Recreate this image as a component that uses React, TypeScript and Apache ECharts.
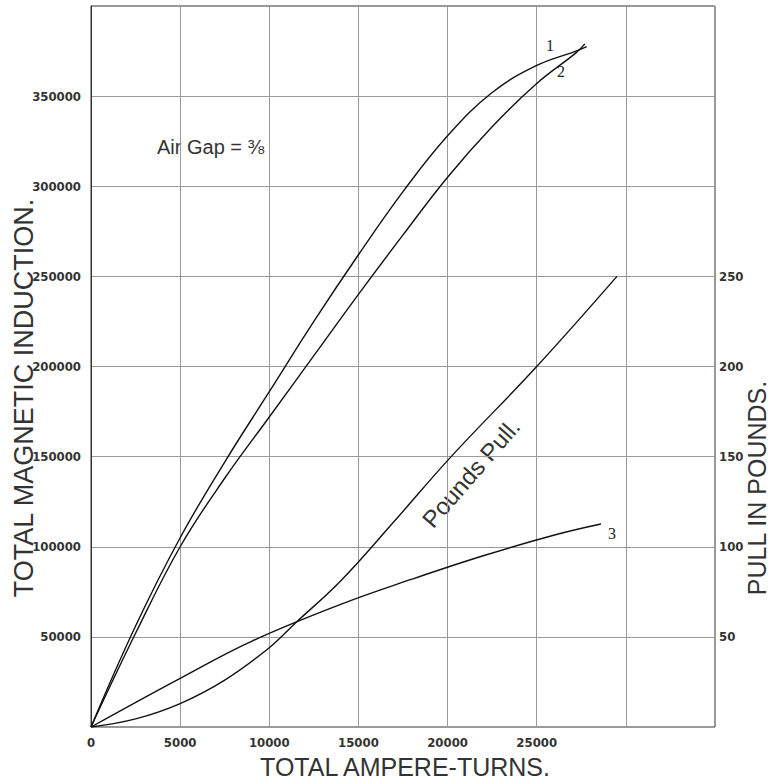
import React, { useEffect, useRef } from "react";
import * as echarts from "echarts";

// Curve 1 — total magnetic induction vs ampere-turns
const curve1Turns = [0, 2500, 5000, 7500, 10000, 12500, 15000, 17500, 20000, 22500, 25000, 27200, 27800];
const curve1Induction = [0, 56000, 105000, 147000, 186000, 225000, 262000, 297000, 328000, 352000, 367000, 375000, 377500];

// Curve 2
const curve2Turns = [0, 2500, 5000, 7500, 10000, 12500, 15000, 17500, 20000, 22500, 25000, 27200, 27700];
const curve2Induction = [0, 52000, 100000, 138000, 172000, 206000, 240000, 273000, 305000, 333000, 357000, 374000, 379000];

// Curve 3
const curve3Turns = [0, 5000, 9000, 14000, 18000, 22000, 26000, 28600];
const curve3Induction = [0, 27000, 47500, 68000, 82000, 95000, 106500, 112600];

// Pounds pull (right axis)
const pullTurns = [0, 2500, 5000, 7500, 10000, 11500, 14000, 17000, 20200, 25000, 29500];
const pullPounds = [0, 4.5, 13, 26, 44, 58, 81, 114, 150, 200, 250];

const xMax = 35000;
const xStep = 5000;
const xLastLabel = 25000;
const yMax = 400000;
const yStep = 50000;
const yLastLabel = 350000;
const pullMax = 400;
const pullStep = 50;
const pullLastLabel = 250;

const narrow = "'Liberation Sans Narrow', 'DejaVu Sans Condensed', sans-serif";
const sans = "'Liberation Sans', 'DejaVu Sans', sans-serif";

const toPairs = (xs: number[], ys: number[]) => xs.map((x, i) => [x, ys[i]]);

export default function App() {
  const ref = useRef<HTMLDivElement>(null);
  useEffect(() => {
    document.body.style.margin = "0";
    const chart = echarts.init(ref.current!, null, { renderer: "svg" });
    const lineStyle = { color: "#111", width: 1.4 };
    const gridLine = { lineStyle: { color: "#9a9a9a", width: 1 } };
    const mkLine = (name: string, data: number[][], yAxisIndex = 0) => ({
      name,
      type: "line",
      data,
      yAxisIndex,
      smooth: 0.4,
      showSymbol: false,
      symbol: "none",
      lineStyle,
      silent: true,
    });
    const tickFont = {
      fontFamily: narrow,
      fontWeight: "bold" as const,
      color: "#333",
    };
    chart.setOption({
      animation: false,
      backgroundColor: "#ffffff",
      grid: {
        left: 91,
        right: 59,
        top: 6,
        bottom: 53,
        show: true,
        borderColor: "#333",
        borderWidth: 1,
      },
      xAxis: {
        type: "value",
        min: 0,
        max: xMax,
        interval: xStep,
        axisLine: { show: false },
        axisTick: { show: false },
        splitLine: gridLine,
        axisLabel: {
          margin: 9,
          fontSize: 13,
          ...tickFont,
          formatter: (v: number) => (v <= xLastLabel ? String(v) : ""),
        },
      },
      yAxis: [
        {
          type: "value",
          min: 0,
          max: yMax,
          interval: yStep,
          axisLine: { show: true, lineStyle: { color: "#333" } },
          axisTick: { show: false },
          splitLine: gridLine,
          axisLabel: {
            margin: 10,
            fontSize: 13,
            ...tickFont,
            formatter: (v: number) => (v > 0 && v <= yLastLabel ? String(v) : ""),
          },
        },
        {
          type: "value",
          position: "right",
          min: 0,
          max: pullMax,
          interval: pullStep,
          axisLine: { show: false },
          axisTick: { show: false },
          splitLine: { show: false },
          axisLabel: {
            margin: 4,
            fontSize: 13,
            ...tickFont,
            formatter: (v: number) => (v > 0 && v <= pullLastLabel ? String(v) : ""),
          },
        },
      ],
      series: [
        mkLine("1", toPairs(curve1Turns, curve1Induction)),
        mkLine("2", toPairs(curve2Turns, curve2Induction)),
        mkLine("3", toPairs(curve3Turns, curve3Induction)),
        mkLine("Pounds Pull.", toPairs(pullTurns, pullPounds), 1),
      ],
      graphic: [
        {
          type: "text",
          x: 24,
          y: 398,
          rotation: Math.PI / 2,
          style: {
            text: "TOTAL MAGNETIC INDUCTION.",
            font: `27px ${sans}`,
            fill: "#333",
            align: "center",
            verticalAlign: "middle",
          },
        },
        {
          type: "text",
          x: 757,
          y: 488,
          rotation: Math.PI / 2,
          style: {
            text: "PULL IN POUNDS.",
            font: `25px ${sans}`,
            fill: "#333",
            align: "center",
            verticalAlign: "middle",
          },
        },
        {
          type: "text",
          x: 405,
          y: 767,
          style: {
            text: "TOTAL AMPERE-TURNS.",
            font: `25px ${sans}`,
            fill: "#333",
            align: "center",
            verticalAlign: "middle",
          },
        },
        {
          type: "text",
          x: 157,
          y: 147,
          style: {
            text: "Air Gap = ⅜",
            font: `20px ${sans}`,
            fill: "#333",
            align: "left",
            verticalAlign: "middle",
          },
        },
        {
          type: "text",
          x: 471,
          y: 473,
          rotation: (49 * Math.PI) / 180,
          style: {
            text: "Pounds Pull.",
            font: `24px ${sans}`,
            fill: "#333",
            align: "center",
            verticalAlign: "middle",
          },
        },
        {
          type: "text",
          x: 550,
          y: 45,
          style: { text: "1", font: `16px 'Liberation Serif', serif`, fill: "#222", align: "center", verticalAlign: "middle" },
        },
        {
          type: "text",
          x: 561,
          y: 71,
          style: { text: "2", font: `16px 'Liberation Serif', serif`, fill: "#222", align: "center", verticalAlign: "middle" },
        },
        {
          type: "text",
          x: 612,
          y: 533,
          style: { text: "3", font: `16px 'Liberation Serif', serif`, fill: "#222", align: "center", verticalAlign: "middle" },
        },
      ],
    });
    return () => chart.dispose();
  }, []);
  return <div ref={ref} style={{ width: 774, height: 780 }} />;
}
